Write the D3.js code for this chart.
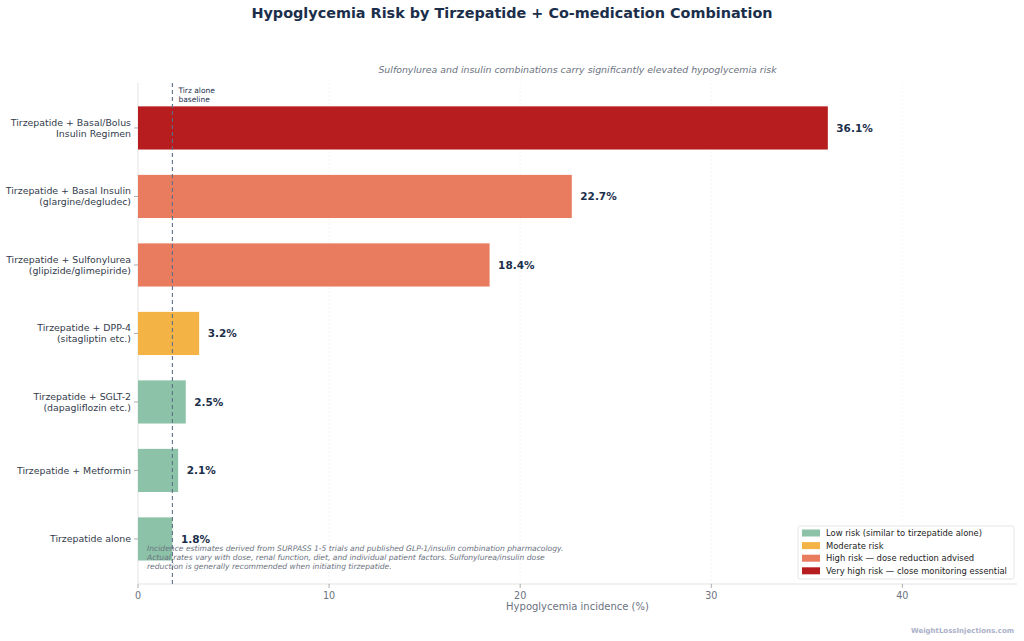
<!DOCTYPE html>
<html><head><meta charset="utf-8">
<script src="https://cdn.jsdelivr.net/npm/d3@7"></script>
<style>body{margin:0;background:#fff}svg{font-family:"DejaVu Sans",sans-serif}</style>
</head><body><svg id="c" width="1024" height="641"></svg>
<script>
const categories = [
  ["Tirzepatide + Basal/Bolus","Insulin Regimen"],
  ["Tirzepatide + Basal Insulin","(glargine/degludec)"],
  ["Tirzepatide + Sulfonylurea","(glipizide/glimepiride)"],
  ["Tirzepatide + DPP-4","(sitagliptin etc.)"],
  ["Tirzepatide + SGLT-2","(dapagliflozin etc.)"],
  ["Tirzepatide + Metformin"],
  ["Tirzepatide alone"]
];
const values = [36.1, 22.7, 18.4, 3.2, 2.5, 2.1, 1.8];
const riskLevels = ["very", "high", "high", "moderate", "low", "low", "low"];
const xTicks = [0, 10, 20, 30, 40];
const baseline = 1.8;
const legendLabels = [
  ["low", "Low risk (similar to tirzepatide alone)"],
  ["moderate", "Moderate risk"],
  ["high", "High risk \u2014 dose reduction advised"],
  ["very", "Very high risk \u2014 close monitoring essential"]
];
const colors = {low:"#8cc3a8", moderate:"#f3b445", high:"#e97c5f", very:"#b71c1e"};

const svg = d3.select("#c");
const L = 138, R = 1017, T = 83, B = 584;
const x = d3.scaleLinear().domain([0, 46]).range([L, R]);
const y = d3.scaleBand().domain(d3.range(categories.length)).range([93.7, 573.2]).paddingInner(0.37).paddingOuter(0.185);

// grid
svg.append("g").selectAll("line").data(xTicks.slice(1)).join("line")
  .attr("x1", d=>x(d)).attr("x2", d=>x(d)).attr("y1", T).attr("y2", B)
  .attr("stroke", "#efefef").attr("stroke-width", 0.6).attr("stroke-dasharray", "2,2");

// spines
svg.append("line").attr("x1", L).attr("x2", L).attr("y1", T).attr("y2", B).attr("stroke", "#e3e3e3").attr("stroke-width", 1);
svg.append("line").attr("x1", L).attr("x2", R).attr("y1", B).attr("y2", B).attr("stroke", "#e3e3e3").attr("stroke-width", 1);

// bars
svg.append("g").selectAll("rect").data(values).join("rect")
  .attr("x", x(0)).attr("y", (d,i)=>y(i)).attr("width", d=>x(d)-x(0)).attr("height", y.bandwidth())
  .attr("fill", (d,i)=>colors[riskLevels[i]]);

// value labels
svg.append("g").selectAll("text").data(values).join("text")
  .attr("x", d=>x(d)+8.5).attr("y", (d,i)=>y(i)+y.bandwidth()/2).attr("dy", "0.35em")
  .attr("font-size", 10.5).attr("font-weight", "bold").attr("fill", "#1b2f4b")
  .text(d=>d.toFixed(1)+"%");

// y labels
const yl = svg.append("g");
categories.forEach((lines, i) => {
  const cy = y(i) + y.bandwidth()/2;
  yl.append("line").attr("x1", L-4).attr("x2", L).attr("y1", cy).attr("y2", cy).attr("stroke", "#999").attr("stroke-width", 0.8);
  const t = yl.append("text").attr("text-anchor", "end").attr("font-size", 9.4).attr("fill", "#333b4b");
  const n = lines.length;
  lines.forEach((ln, j) => {
    t.append("tspan").attr("x", L-7).attr("y", cy + (j - (n-1)/2)*11.2).attr("dy", "0.35em").text(ln);
  });
});

// x axis ticks
const xa = svg.append("g");
xTicks.forEach(v => {
  xa.append("line").attr("x1", x(v)).attr("x2", x(v)).attr("y1", B).attr("y2", B+4).attr("stroke", "#999").attr("stroke-width", 0.8);
  xa.append("text").attr("x", x(v)).attr("y", B+15).attr("text-anchor", "middle").attr("font-size", 9.6).attr("fill", "#6b7280").text(v);
});
svg.append("text").attr("x", (L+R)/2).attr("y", 610).attr("text-anchor", "middle").attr("font-size", 10).attr("fill", "#6b7280").text("Hypoglycemia incidence (%)");

// baseline
svg.append("line").attr("x1", x(baseline)).attr("x2", x(baseline)).attr("y1", T).attr("y2", B)
  .attr("stroke", "#5d7088").attr("stroke-width", 1.1).attr("stroke-dasharray", "4,3");
svg.append("text").attr("font-size", 7.5).attr("fill", "#1b2f4b")
  .call(t => { t.append("tspan").attr("x", x(baseline)+6).attr("y", 93).text("Tirz alone");
               t.append("tspan").attr("x", x(baseline)+6).attr("y", 102).text("baseline"); });

// title & subtitle
svg.append("text").attr("x", 512).attr("y", 18).attr("text-anchor", "middle").attr("font-size", 14.4).attr("font-weight", "bold").attr("fill", "#1b2f4b")
  .text("Hypoglycemia Risk by Tirzepatide + Co-medication Combination");
svg.append("text").attr("x", (L+R)/2).attr("y", 73).attr("text-anchor", "middle").attr("font-size", 9.4).attr("font-style", "italic").attr("fill", "#6b7280")
  .text("Sulfonylurea and insulin combinations carry significantly elevated hypoglycemia risk");

// footnote
const fn = ["Incidence estimates derived from SURPASS 1-5 trials and published GLP-1/insulin combination pharmacology.",
  "Actual rates vary with dose, renal function, diet, and individual patient factors. Sulfonylurea/insulin dose",
  "reduction is generally recommended when initiating tirzepatide."];
svg.append("g").selectAll("text").data(fn).join("text")
  .attr("x", 147).attr("y", (d,i)=>551+i*9.2).attr("font-size", 7.6).attr("font-style", "italic").attr("fill", "#6b7280").text(d=>d);

// legend
const lg = svg.append("g");
lg.append("rect").attr("x", 798).attr("y", 526).attr("width", 216).attr("height", 53).attr("rx", 2)
  .attr("fill", "#fff").attr("fill-opacity", 0.85).attr("stroke", "#e0e0e0").attr("stroke-width", 0.8);
legendLabels.forEach((d, i) => {
  const yy = 529.5 + i*12.6;
  lg.append("rect").attr("x", 802).attr("y", yy).attr("width", 18).attr("height", 7).attr("fill", colors[d[0]]);
  lg.append("text").attr("x", 826).attr("y", yy+3.5).attr("dy", "0.35em").attr("font-size", 8.4).attr("fill", "#222").text(d[1]);
});

// watermark
svg.append("text").attr("x", 1014).attr("y", 633).attr("text-anchor", "end").attr("font-size", 7).attr("font-weight", "bold").attr("fill", "#aab0c8")
  .text("WeightLossInjections.com");
</script></body></html>
